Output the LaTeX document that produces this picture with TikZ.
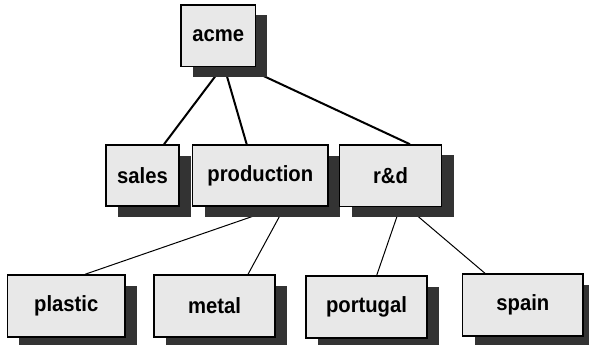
\documentclass[tikz,border=0pt]{standalone}
\usepackage{fontspec}
\setmainfont{Liberation Sans}
\newfontfamily\boxfont[FakeStretch=0.92]{Liberation Sans Bold}
\usetikzlibrary{shadows}
\definecolor{boxfill}{HTML}{E8E8E8}
\definecolor{shadowc}{HTML}{333333}
\pgfdeclarelayer{background}
\pgfsetlayers{background,main}
\tikzset{
  unitbox/.style={draw=black, line width=1.4pt, fill=boxfill, inner sep=0pt,
    font=\boxfont\fontsize{22}{24}\selectfont,
    drop shadow={shadow xshift=12pt, shadow yshift=-10.5pt, fill=shadowc, opacity=1}},
  thickline/.style={line width=2pt, black},
  thinline/.style={line width=1pt, black}
}
\begin{document}
\begin{tikzpicture}[x=1pt, y=-1pt]
\clip (0,0) rectangle (589,345);
\node[unitbox, minimum width=74.5pt, minimum height=61.7pt] (acme) at (218.2,35.8) {acme};
\node[unitbox, minimum width=73pt, minimum height=61pt] (sales) at (142.5,175.5) {sales};
\node[unitbox, minimum width=135.3pt, minimum height=61pt] (production) at (260.3,175.5) {production};
\node[unitbox, minimum width=102pt, minimum height=61.5pt] (rd) at (390.5,175.7) {r\&d};
\node[unitbox, minimum width=117.7pt, minimum height=62pt] (plastic) at (66.2,306) {plastic};
\node[unitbox, minimum width=121pt, minimum height=62pt] (metal) at (214.5,306) {metal};
\node[unitbox, minimum width=121pt, minimum height=62pt] (portugal) at (366.5,307) {portugal};
\node[unitbox, minimum width=120.3pt, minimum height=62pt] (spain) at (522.9,305) {spain};
\begin{pgfonlayer}{background}
\draw[thickline] ([shift={(-0.2,5.3)}]acme.south) -- ([shift={(21.5,0)}]sales.north);
\draw[thickline] ([shift={(7.7,5.3)}]acme.south) -- ([shift={(-13.6,0)}]production.north);
\draw[thickline] ([shift={(30,1.5)}]acme.south) -- ([shift={(19.5,0)}]rd.north);
\draw[thinline] ([shift={(3,6)}]production.south) -- ([shift={(18.8,0)}]plastic.north);
\draw[thinline] ([shift={(21.2,6)}]production.south) -- ([shift={(33.5,0)}]metal.north);
\draw[thinline] ([shift={(7.8,5.5)}]rd.south) -- ([shift={(10.2,0)}]portugal.north);
\draw[thinline] ([shift={(23.1,5.5)}]rd.south) -- ([shift={(-37.9,0)}]spain.north);
\end{pgfonlayer}
\end{tikzpicture}
\end{document}
